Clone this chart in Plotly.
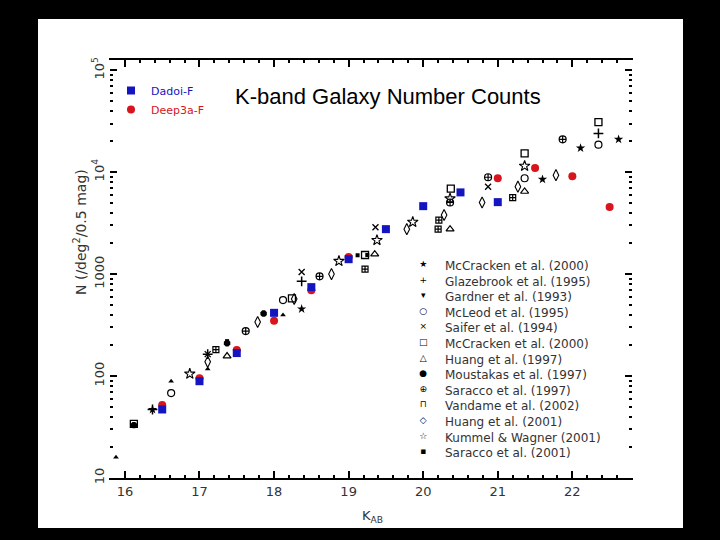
import plotly.graph_objects as go

# ---------------- data ----------------
dadoi_k = [16.5, 17.0, 17.5, 18.0, 18.5, 19.0, 19.5, 20.0, 20.5, 21.0]
dadoi_n = [47, 89, 168, 417, 745, 1400, 2760, 4640, 6330, 5080]

deep3a_k = [16.5, 17.0, 17.5, 18.0, 18.5, 19.0, 21.0, 21.5, 22.0, 22.5]
deep3a_n = [52, 95, 180, 348, 694, 1470, 8710, 11000, 9120, 4540]

mcc00a_k = [16.37, 18.37, 21.60, 22.11, 22.62]
mcc00a_n = [47, 455, 8500, 17200, 21000]

glaz_k = [16.37, 17.11, 18.37, 22.35]
glaz_n = [47, 164, 850, 24000]

gard_k = [15.88, 16.62, 17.11, 18.12]
gard_n = [16, 89, 117, 398]

mcleod_k = [16.62, 18.12, 21.36, 22.35]
mcleod_n = [68, 556, 8710, 18600]

saifer_k = [17.11, 18.37, 19.36, 20.87]
saifer_n = [164, 1050, 2880, 7200]

mcc00b_k = [16.12, 18.24, 19.22, 20.37, 21.36, 22.35]
mcc00b_n = [34, 577, 1540, 6900, 15300, 30900]

huang97_k = [17.37, 19.35, 20.36, 21.36]
huang97_n = [157, 1570, 2760, 6460]

moust_k = [16.12, 17.37, 17.86]
moust_n = [33, 210, 410]

sar97_k = [17.62, 18.61, 20.36, 20.87, 21.87]
sar97_n = [276, 950, 5040, 8910, 21000]

vand_k = [17.22, 19.22, 20.20, 20.21, 21.20]
vand_n = [182, 1120, 2760, 3390, 5620]

huang01_k = [17.11, 17.78, 18.27, 18.77, 19.78, 20.28, 20.79, 21.27, 21.78]
huang01_n = [138, 339, 570, 1000, 2760, 3800, 5040, 7200, 9330]

kumm_k = [16.87, 18.87, 19.38, 19.86, 20.36, 21.36]
kumm_n = [105, 1340, 2150, 3240, 5500, 11500]

sar01_k = [17.37, 19.12, 19.25]
sar01_n = [220, 1530, 1540]

ref_names = ["McCracken et al. (2000)", "Glazebrook et al. (1995)", "Gardner et al. (1993)",
             "McLeod et al. (1995)", "Saifer et al. (1994)", "McCracken et al. (2000)",
             "Huang et al. (1997)", "Moustakas et al. (1997)", "Saracco et al. (1997)",
             "Vandame et al. (2002)", "Huang et al. (2001)", "Kummel & Wagner (2001)",
             "Saracco et al. (2001)"]
ref_glyphs = ["★", "+", "▾", "○", "×", "□", "△", "●", "⊕", "⊓", "◇", "☆", "▪"]

ytick_vals = [10, 100, 1000, 10000, 100000]
ytick_text = ["10", "100", "1000", "10<sup>4</sup>", "10<sup>5</sup>"]
xtick_vals = [16, 17, 18, 19, 20, 21, 22]

# ---------------- figure ----------------
fig = go.Figure()

ref_series = [
    (mcc00a_k, mcc00a_n, "star", 7, 0),
    (glaz_k, glaz_n, "cross-thin-open", 7, 1.5),
    (gard_k, gard_n, "triangle-up", 5, 0),
    (mcleod_k, mcleod_n, "circle-open", 7, 1.2),
    (saifer_k, saifer_n, "x-thin-open", 6, 1.3),
    (mcc00b_k, mcc00b_n, "square-open", 7, 1.3),
    (huang97_k, huang97_n, "triangle-up-open", 7, 1.2),
    (moust_k, moust_n, "octagon", 7, 0),
    (sar97_k, sar97_n, "circle-cross-open", 7, 1.2),
    (vand_k, vand_n, "square-cross-open", 6, 1.2),
    (huang01_k, huang01_n, "diamond-tall-open", 8, 1.1),
    (kumm_k, kumm_n, "star-open", 8, 1.1),
    (sar01_k, sar01_n, "square", 4, 0),
]
for (kx, ny, sym, sz, lw), name in zip(ref_series, ref_names):
    fig.add_trace(go.Scatter(
        x=kx, y=ny, mode="markers", name=name, showlegend=False,
        marker=dict(symbol=sym, size=sz, color="black",
                    line=dict(color="black", width=lw)),
    ))

fig.add_trace(go.Scatter(
    x=deep3a_k, y=deep3a_n, mode="markers", legendrank=2,
    name='<span style="color:#d8141c">Deep3a-F</span>',
    marker=dict(symbol="circle", size=8, color="#d8141c"),
))
fig.add_trace(go.Scatter(
    x=dadoi_k, y=dadoi_n, mode="markers", legendrank=1,
    name='<span style="color:#1414c0">Dadoi-F</span>',
    marker=dict(symbol="square", size=8, color="#1414c0"),
))

# layout geometry (pixels)
L, R, T, B = 110, 88, 60, 62
W, H = 720, 540
pw, ph = W - L - R, H - T - B


def px_x(p):
    return (p - L) / pw


def px_y(p):
    return 1 - (p - T) / ph


minor_y = [m * 10 ** d for d in range(1, 5) for m in range(2, 10)]

fig.update_layout(
    width=W, height=H,
    margin=dict(l=L, r=R, t=T, b=B),
    paper_bgcolor="black",
    plot_bgcolor="white",
    font=dict(family="DejaVu Sans", color="#222222", size=12),
    showlegend=True,
    legend=dict(x=px_x(111), y=px_y(76), xanchor="left", yanchor="top",
                bgcolor="rgba(0,0,0,0)", font=dict(size=11, family="DejaVu Sans"),
                itemwidth=30, tracegroupgap=0),
    shapes=[dict(type="rect", xref="paper", yref="paper",
                 x0=px_x(38), x1=px_x(683), y0=px_y(528), y1=px_y(19),
                 fillcolor="white", line=dict(width=0), layer="below")],
    xaxis=dict(
        range=[15.8, 22.8], tickvals=xtick_vals, ticks="inside", ticklen=7,
        tickwidth=1.5, tickcolor="black", showline=True, linecolor="black",
        linewidth=2, mirror="allticks", showgrid=False, zeroline=False,
        tickfont=dict(size=13, color="#333333"),
        minor=dict(dtick=0.2, ticks="inside", ticklen=3, tickcolor="black",
                   tickwidth=1.5, showgrid=False),
    ),
    yaxis=dict(
        type="log", range=[1, 5.1], tickvals=ytick_vals, ticktext=ytick_text,
        tickangle=-90, ticks="inside", ticklen=7, tickwidth=1.5,
        tickcolor="black", showline=True, linecolor="rgba(0,0,0,0)",
        mirror="allticks", showgrid=False, zeroline=False,
        tickfont=dict(size=13, color="#333333"), ticklabelstandoff=0,
        minor=dict(tickmode="array", tickvals=minor_y, ticks="inside",
                   ticklen=3, tickcolor="black", tickwidth=1.5, showgrid=False),
    ),
    annotations=[
        dict(text="K-band Galaxy Number Counts", xref="paper", yref="paper",
             x=px_x(388), y=px_y(97), xanchor="center", yanchor="middle",
             showarrow=False,
             font=dict(family="Liberation Sans", size=22, color="black")),
        dict(text="N (/deg<sup>2</sup>/0.5 mag)", xref="paper", yref="paper",
             x=px_x(80), y=px_y(232), xanchor="center", yanchor="middle",
             showarrow=False, textangle=-90,
             font=dict(size=14, color="#333333")),
        dict(text="K<sub>AB</sub>", xref="paper", yref="paper",
             x=px_x(372), y=px_y(516), xanchor="center", yanchor="middle",
             showarrow=False,
             font=dict(size=13, color="#333333")),
        dict(text="<br>".join('<span style="font-size:9px">%s</span>' % g for g in ref_glyphs),
             xref="paper", yref="paper", x=px_x(423), y=px_y(257),
             xanchor="center", yanchor="top", align="center", showarrow=False,
             font=dict(size=12, color="black")),
        dict(text="<br>".join(ref_names), xref="paper", yref="paper",
             x=px_x(443), y=px_y(257), xanchor="left", yanchor="top",
             align="left", showarrow=False,
             font=dict(size=12, color="#333333")),
    ],
)

fig.write_html(
    "out.html",
    config={"displayModeBar": False},
    post_script="document.body.style.margin='0';document.body.style.background='black';",
)
